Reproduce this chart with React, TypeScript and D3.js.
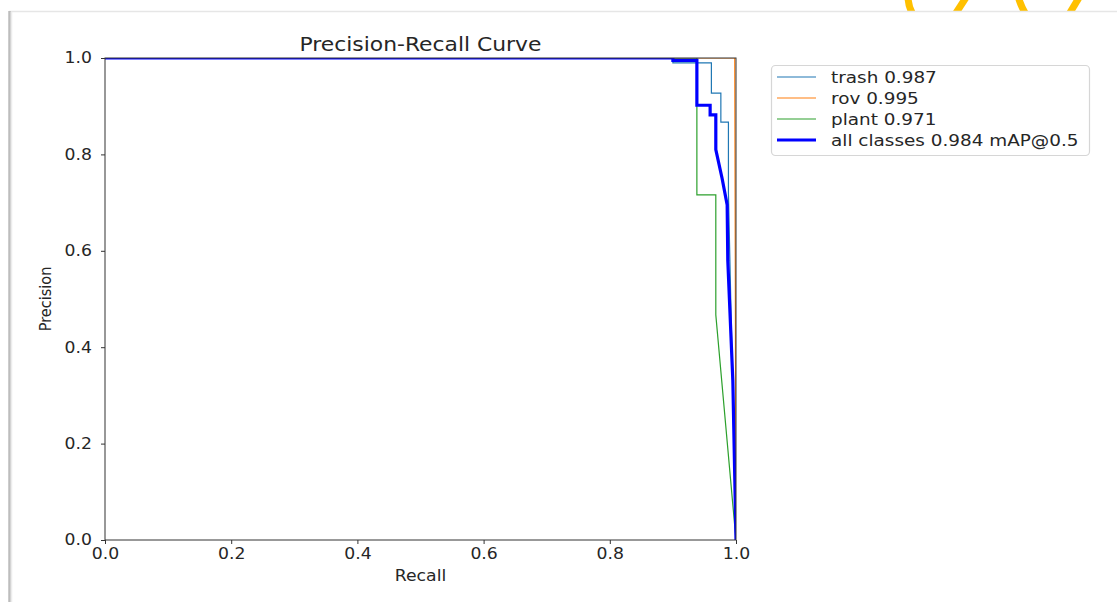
import React, { useEffect, useRef } from 'react';
import * as d3 from 'd3';

// PR curve points (recall, precision)
const trashRecall = [0, 0.9, 0.9, 0.961, 0.961, 0.976, 0.976, 0.988, 0.988, 1.0];
const trashPrecision = [1, 1, 0.99, 0.99, 0.927, 0.927, 0.867, 0.867, 0.72, 0];

const rovRecall = [0, 0.998, 1.0];
const rovPrecision = [1, 1, 0];

const plantRecall = [0, 0.938, 0.938, 0.968, 0.968, 1.0];
const plantPrecision = [1, 1, 0.716, 0.716, 0.467, 0];

const allRecall = [0, 0.9, 0.9, 0.938, 0.938, 0.959, 0.959, 0.968, 0.968, 0.978, 0.986, 0.987, 0.995, 1.0];
const allPrecision = [1, 1, 0.995, 0.995, 0.902, 0.902, 0.882, 0.882, 0.81, 0.75, 0.695, 0.58, 0.33, 0];

const seriesNames = ['trash 0.987', 'rov 0.995', 'plant 0.971', 'all classes 0.984 mAP@0.5'];
const seriesColors = ['#1f77b4', '#ff7f0e', '#2ca02c', '#0000ff'];
const seriesWidths = [1.2, 1.2, 1.2, 3.2];

const tickValues = [0, 0.2, 0.4, 0.6, 0.8, 1.0];

const FONT = '"DejaVu Sans", sans-serif';
const STRETCH = 1.15; // the screenshot is a bit wider than tall

const App = () => {
  const svgRef = useRef<SVGSVGElement>(null);

  useEffect(() => {
    const svg = d3.select(svgRef.current);
    svg.selectAll('*').remove();

    const left = 105, right = 736, top = 58, bottom = 540;

    const x = d3.scaleLinear().domain([0, 1]).range([left, right]);
    const y = d3.scaleLinear().domain([0, 1]).range([bottom, top]);

    // screenshot frame + clipped logo bits at the top
    const deco = svg.append('g');
    deco.append('defs').append('clipPath').attr('id', 'logoclip')
      .append('rect').attr('x', 0).attr('y', 0).attr('width', 1117).attr('height', 11);
    const logo = deco.append('g').attr('clip-path', 'url(#logoclip)')
      .attr('fill', 'none').attr('stroke', '#ffc000').attr('stroke-width', 7).attr('stroke-linecap', 'butt');
    logo.append('path').attr('d', 'M908,-4 Q908,7 914,16');
    logo.append('path').attr('d', 'M954,16 L967,-4');
    logo.append('path').attr('d', 'M1018,-4 Q1021,7 1027,16');
    logo.append('path').attr('d', 'M1068,16 L1080,-4');
    deco.append('line').attr('x1', 9).attr('x2', 1117).attr('y1', 11.5).attr('y2', 11.5)
      .attr('stroke', '#e6e6e6').attr('stroke-width', 1.5);
    deco.append('line').attr('x1', 9.5).attr('x2', 9.5).attr('y1', 11).attr('y2', 602)
      .attr('stroke', '#bdbdbd').attr('stroke-width', 2.5);
    deco.append('line').attr('x1', 11.5).attr('x2', 11.5).attr('y1', 12).attr('y2', 602)
      .attr('stroke', '#ececec').attr('stroke-width', 1.5);

    // clip curves to the axes box
    svg.append('defs').append('clipPath').attr('id', 'plotclip')
      .append('rect').attr('x', left).attr('y', top).attr('width', right - left).attr('height', bottom - top);

    const curves = [
      d3.zip(trashRecall, trashPrecision),
      d3.zip(rovRecall, rovPrecision),
      d3.zip(plantRecall, plantPrecision),
      d3.zip(allRecall, allPrecision),
    ];

    const line = d3.line<number[]>().x(d => x(d[0])).y(d => y(d[1]));

    const plot = svg.append('g').attr('clip-path', 'url(#plotclip)');
    curves.forEach((pts, i) => {
      plot.append('path')
        .attr('d', line(pts))
        .attr('fill', 'none')
        .attr('stroke', seriesColors[i])
        .attr('stroke-width', seriesWidths[i])
        .attr('stroke-linejoin', 'miter');
    });

    // spines
    svg.append('rect')
      .attr('x', left).attr('y', top)
      .attr('width', right - left).attr('height', bottom - top)
      .attr('fill', 'none').attr('stroke', '#333').attr('stroke-width', 1);

    // x axis
    const xAxis = svg.append('g')
      .attr('transform', `translate(0,${bottom})`)
      .call(d3.axisBottom(x).tickValues(tickValues).tickFormat(d3.format('.1f')).tickSize(4).tickPadding(4).tickSizeOuter(0));
    xAxis.select('.domain').remove();
    xAxis.selectAll('line').attr('stroke', '#333');
    xAxis.selectAll('text')
      .attr('font-family', FONT).attr('font-size', 15).attr('fill', '#262626')
      .attr('transform', `scale(${STRETCH},1)`);

    // y axis
    const yAxis = svg.append('g')
      .attr('transform', `translate(${left},0)`)
      .call(d3.axisLeft(y).tickValues(tickValues).tickFormat(d3.format('.1f')).tickSize(4).tickPadding(9).tickSizeOuter(0));
    yAxis.select('.domain').remove();
    yAxis.selectAll('line').attr('stroke', '#333');
    yAxis.selectAll('text')
      .attr('font-family', FONT).attr('font-size', 15).attr('fill', '#262626')
      .attr('x', 0)
      .attr('transform', `translate(-13,0) scale(${STRETCH},1)`);

    // title and axis labels
    svg.append('text')
      .attr('transform', `translate(${(left + right) / 2},51) scale(${STRETCH},1)`)
      .attr('text-anchor', 'middle')
      .attr('font-family', FONT).attr('font-size', 19).attr('fill', '#262626')
      .text('Precision-Recall Curve');

    svg.append('text')
      .attr('transform', `translate(${(left + right) / 2},581) scale(${STRETCH},1)`)
      .attr('text-anchor', 'middle')
      .attr('font-family', FONT).attr('font-size', 15).attr('fill', '#262626')
      .text('Recall');

    svg.append('text')
      .attr('transform', `translate(51,${(top + bottom) / 2}) scale(${STRETCH},1) rotate(-90)`)
      .attr('text-anchor', 'middle')
      .attr('font-family', FONT).attr('font-size', 14.5).attr('fill', '#262626')
      .text('Precision');

    // legend
    const legend = svg.append('g');
    legend.append('rect')
      .attr('x', 771.5).attr('y', 65.5).attr('width', 318).attr('height', 90)
      .attr('rx', 4)
      .attr('fill', 'white').attr('stroke', '#d6d6d6').attr('stroke-width', 1.2);
    seriesNames.forEach((name, i) => {
      const ry = 77 + i * 21;
      legend.append('line')
        .attr('x1', 777).attr('x2', 816).attr('y1', ry).attr('y2', ry)
        .attr('stroke', seriesColors[i]).attr('stroke-width', seriesWidths[i]);
      legend.append('text')
        .attr('transform', `translate(831,${ry}) scale(${STRETCH},1)`)
        .attr('dy', '0.36em')
        .attr('font-family', FONT).attr('font-size', 16).attr('fill', '#262626')
        .text(name);
    });
  }, []);

  return (
    <svg
      ref={svgRef}
      width={1117}
      height={602}
      style={{ position: 'absolute', left: 0, top: 0, background: 'white', display: 'block' }}
    />
  );
};

export default App;
